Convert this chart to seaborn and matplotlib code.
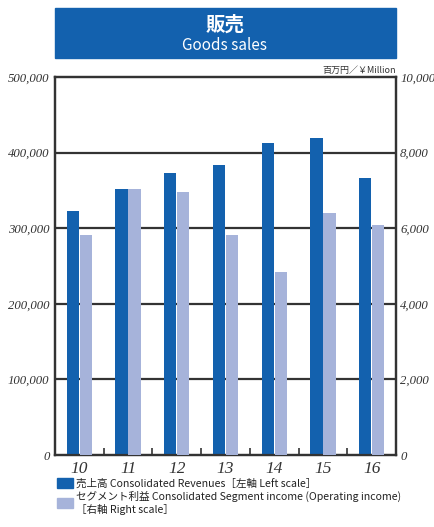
import numpy as np
import matplotlib.pyplot as plt
import seaborn as sns
import pandas as pd
from matplotlib.patches import Rectangle
from matplotlib.ticker import FixedLocator

# data
years = ["10", "11", "12", "13", "14", "15", "16"]
revenues = [323000, 352000, 373000, 384000, 413000, 419000, 366000]   # left scale
segment_income = [5820, 7040, 6960, 5820, 4840, 6400, 6080]          # right scale
left_ticks = [0, 100000, 200000, 300000, 400000, 500000]
right_ticks = [0, 2000, 4000, 6000, 8000, 10000]

lab_rev = "売上高 Consolidated Revenues［左軸 Left scale］"
lab_seg = "セグメント利益 Consolidated Segment income (Operating income)\n［右軸 Right scale］"
hue_order = [lab_rev, lab_seg]

# long table; each axis gets its own series, the other one left empty (NaN)
nan7 = [np.nan] * len(years)
df_left = pd.DataFrame({"year": years * 2, "value": revenues + nan7,
                        "series": [lab_rev] * 7 + [lab_seg] * 7})
df_right = pd.DataFrame({"year": years * 2, "value": nan7 + segment_income,
                         "series": [lab_rev] * 7 + [lab_seg] * 7})

blue = "#1361ae"
light = "#a6b3da"
dark = "#333333"
pal = {lab_rev: blue, lab_seg: light}

sns.set_theme(style="white")
plt.rcParams['font.family'] = ['Noto Sans CJK JP', 'DejaVu Sans']

fig = plt.figure(figsize=(4.34, 5.27), dpi=100)
ax = fig.add_axes([55/434, 1-455/527, 341/434, 378/527])
ax2 = ax.twinx()

bar_kw = dict(x="year", y="value", hue="series", hue_order=hue_order, palette=pal,
              width=0.53, gap=0.05, legend=False, errorbar=None, saturation=1,
              linewidth=0, edgecolor="none", zorder=3)
sns.barplot(data=df_left, ax=ax, **bar_kw)
sns.barplot(data=df_right, ax=ax2, **bar_kw)

serif_it = dict(family="Liberation Serif", style="italic", color=dark)

ax.set_ylim(0, 500000)
ax2.set_ylim(0, 10000)
ax.set_xlim(-0.5, len(years) - 0.5)
ax.set_yticks(left_ticks)
ax.set_yticklabels([f"{v:,}" for v in left_ticks], fontsize=9.2, **serif_it)
ax2.set_yticks(right_ticks)
ax2.set_yticklabels([f"{v:,}" for v in right_ticks], fontsize=9.2, **serif_it)
ax.set_xticks(range(len(years)))
ax.set_xticklabels(years, fontsize=12.5, **serif_it)
ax.xaxis.set_minor_locator(FixedLocator(np.arange(len(years) - 1) + 0.5))
ax.tick_params(axis="x", which="major", length=0, pad=4)
ax.tick_params(axis="x", which="minor", direction="in", length=5, width=1.2, color=dark, bottom=True)
ax.tick_params(axis="y", length=0, pad=4)
ax2.tick_params(axis="y", length=0, pad=3)
ax.set_xlabel("")
ax.set_ylabel("")
ax2.set_ylabel("")

# gridlines behind the bars
for v in left_ticks[1:-1]:
    ax.axhline(v, color=dark, lw=1.6, zorder=0)
ax2.patch.set_visible(False)

for a in (ax, ax2):
    for s in a.spines.values():
        s.set_color(dark)
        s.set_linewidth(1.6)

# title box
fig.patches.append(Rectangle((55/434, 1-58/527), 341/434, 50/527,
                             transform=fig.transFigure, color="#1361ae", zorder=0))
fig.text(225/434, 1-25/527, "販売", ha="center", va="center", color="white",
         fontsize=14, fontweight="bold")
fig.text(225/434, 1-46/527, "Goods sales", ha="center", va="center", color="white",
         fontsize=11)
fig.text(396/434, 1-70/527, "百万円／￥Million", ha="right", va="center", color=dark,
         fontsize=6.5)

handles = [Rectangle((0, 0), 1, 1, color=blue), Rectangle((0, 0), 1, 1, color=light)]
fig.legend(handles, hue_order, loc="upper left", bbox_to_anchor=(57/434, 1-478/527),
           frameon=False, fontsize=7.6, handlelength=1.5, handleheight=1.1,
           handletextpad=0.3, labelspacing=0.2, borderaxespad=0, borderpad=0,
           labelcolor="#222222")

fig.savefig("out.png", dpi=100)
